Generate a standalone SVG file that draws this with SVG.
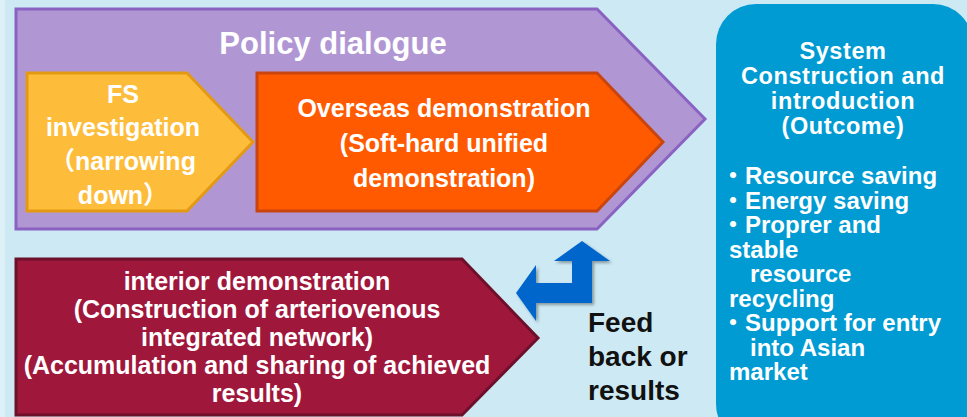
<svg xmlns="http://www.w3.org/2000/svg" width="967" height="417" viewBox="0 0 967 417">
<defs>
<style>
.t{font-family:"Liberation Sans","Noto Sans CJK JP",sans-serif;font-weight:bold;fill:#fff;}
.c{text-anchor:middle;}
.f25{font-size:25px;}
.f24{font-size:24px;}
.hd{font-size:23.5px;letter-spacing:0.6px;}
.feed{font-family:"Liberation Sans",Arial,sans-serif;font-weight:bold;font-size:28px;fill:#111;}
.sh{stroke-width:3;stroke-linejoin:miter;}
</style>
<filter id="ds" x="-20%" y="-20%" width="150%" height="150%">
<feDropShadow dx="2" dy="2" stdDeviation="1.5" flood-color="#000" flood-opacity="0.35"/>
</filter>
</defs>
<rect x="0" y="0" width="967" height="417" fill="#cde9f4"/>
<rect x="0" y="0" width="5" height="417" fill="#ddf0f8"/>

<g id="policy-dialogue">
<polygon class="sh" points="16,9 597,9 705,119 597,229 16,229" fill="#b097d4" stroke="#8a63c2"/>
<text class="t c" x="333" y="54" font-size="31">Policy dialogue</text>
</g>

<g id="fs-investigation">
<polygon class="sh" points="27,73 187,73 253,142 187,211 27,211" fill="#fdbd3b" stroke="#e39a12"/>
<text class="t c f25" x="123" y="103">FS</text>
<text class="t c f25" x="123" y="136">investigation</text>
<text class="t c f25" x="123" y="170">（narrowing</text>
<text class="t c f25" x="123" y="204">down）</text>
</g>

<g id="overseas-demonstration">
<polygon class="sh" points="257,73 597,73 663,142 597,211 257,211" fill="#ff5a00" stroke="#c8450f"/>
<text class="t c f25" x="444" y="117">Overseas demonstration</text>
<text class="t c f25" x="444" y="152">(Soft-hard unified</text>
<text class="t c f25" x="444" y="187">demonstration)</text>
</g>

<g id="interior-demonstration">
<polygon class="sh" points="16,259 462,259 538,338 462,415 16,415" fill="#a0173c" stroke="#6d102a"/>
<text class="t c f25" x="257" y="290">interior demonstration</text>
<text class="t c f25" x="257" y="318">(Construction of arteriovenous</text>
<text class="t c f25" x="257" y="346">integrated network)</text>
<text class="t c f25" x="257" y="374">(Accumulation and sharing of achieved</text>
<text class="t c f25" x="257" y="402">results)</text>
</g>

<g id="outcome">
<rect x="716" y="4" width="257" height="440" rx="40" ry="40" fill="#009bd2"/>
<text class="t c hd" x="843" y="59">System</text>
<text class="t c hd" x="843" y="84">Construction and</text>
<text class="t c hd" x="843" y="109">introduction</text>
<text class="t c hd" x="843" y="134">(Outcome)</text>
<text class="t f24" x="721" y="184">・Resource saving</text>
<text class="t f24" x="721" y="208.5">・Energy saving</text>
<text class="t f24" x="721" y="233">・Proprer and</text>
<text class="t f24" x="729" y="257.5">stable</text>
<text class="t f24" x="750" y="282">resource</text>
<text class="t f24" x="729" y="306.5">recycling</text>
<text class="t f24" x="721" y="331">・Support for entry</text>
<text class="t f24" x="750" y="355.5">into Asian</text>
<text class="t f24" x="729" y="380">market</text>
</g>

<g id="connectors">
<polygon filter="url(#ds)" points="582,241 610,261 592,261 592,303 536,303 536,321 516,293 536,265 536,283 572,283 572,261 554,261" fill="#0066cc"/>
<text class="feed" x="588" y="332">Feed</text>
<text class="feed" x="588" y="366">back or</text>
<text class="feed" x="588" y="400">results</text>
</g>
</svg>
